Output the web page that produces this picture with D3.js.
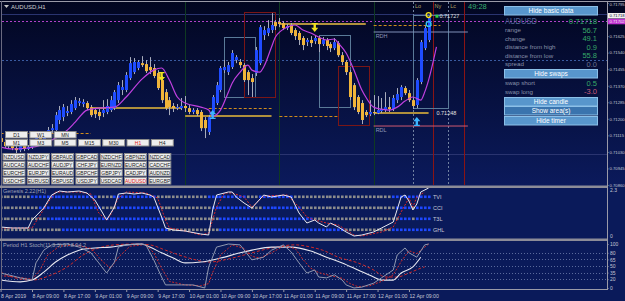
<!DOCTYPE html>
<html>
  <head>
    <meta charset="utf-8" />
    <title>AUDUSD,H1</title>
    <script src="https://d3js.org/d3.v7.min.js"></script>
    <style>
        body { margin: 0; background: #0a1a5a; }
        svg { display: block; font-family: "Liberation Sans", Arial, sans-serif; }
    </style>
  </head>
  <body>
    <svg id="chart"></svg>
    <script>
        // ---- data (bar 1 = 8 Apr 01:00, one bar per hour) ----
        var firstBar = 1;
        var opens = [0.71101,0.71081,0.71060,0.71075,0.71050,0.71039,0.71060,0.71045,0.71055,0.71075,
            0.71101,0.71091,0.71122,0.71142,0.71142,0.71194,0.71209,0.71230,0.71235,0.71255,
            0.71281,0.71276,0.71281,0.71260,0.71245,0.71235,0.71230,0.71235,0.71245,0.71255,
            0.71296,0.71348,0.71348,0.71409,0.71440,0.71461,0.71486,0.71481,0.71466,0.71461,
            0.71435,0.71399,0.71337,0.71296,0.71266,0.71255,0.71255,0.71266,0.71255,0.71235,
            0.71245,0.71235,0.71194,0.71132,0.71235,0.71281,0.71348,0.71450,0.71440,0.71466,
            0.71502,0.71492,0.71476,0.71440,0.71409,0.71435,0.71486,0.71630,0.71641,0.71656,
            0.71697,0.71697,0.71692,0.71666,0.71682,0.71656,0.71641,0.71615,0.71594,0.71605,
            0.71599,0.71615,0.71584,0.71605,0.71584,0.71563,0.71589,0.71527,0.71492,0.71440,
            0.71373,0.71312,0.71281,0.71235,0.71224,0.71235,0.71230,0.71240,0.71245,0.71260,
            0.71250,0.71296,0.71312,0.71358,0.71332,0.71296,0.71271,0.71389,0.71563,0.71605];
        var closes = [0.71081,0.71060,0.71075,0.71050,0.71039,0.71060,0.71045,0.71055,0.71075,0.71101,
            0.71091,0.71122,0.71142,0.71152,0.71219,0.71245,0.71260,0.71240,0.71276,0.71296,
            0.71291,0.71286,0.71255,0.71219,0.71224,0.71214,0.71245,0.71266,0.71296,0.71337,
            0.71373,0.71363,0.71425,0.71486,0.71492,0.71492,0.71476,0.71445,0.71450,0.71420,
            0.71358,0.71296,0.71255,0.71260,0.71255,0.71260,0.71266,0.71255,0.71235,0.71245,
            0.71224,0.71152,0.71152,0.71209,0.71312,0.71373,0.71461,0.71466,0.71476,0.71538,
            0.71517,0.71476,0.71399,0.71399,0.71389,0.71553,0.71671,0.71656,0.71666,0.71682,
            0.71676,0.71687,0.71666,0.71676,0.71641,0.71625,0.71605,0.71579,0.71605,0.71589,
            0.71615,0.71584,0.71605,0.71574,0.71563,0.71594,0.71527,0.71492,0.71440,0.71312,
            0.71260,0.71235,0.71194,0.71219,0.71235,0.71230,0.71245,0.71250,0.71260,0.71250,
            0.71307,0.71327,0.71363,0.71332,0.71296,0.71266,0.71399,0.71594,0.71666,0.71718];
        var highs = [0.71122,0.71091,0.71086,0.71081,0.71060,0.71070,0.71065,0.71065,0.71086,0.71111,
            0.71117,0.71132,0.71158,0.71173,0.71235,0.71266,0.71276,0.71266,0.71296,0.71312,
            0.71307,0.71301,0.71291,0.71271,0.71255,0.71250,0.71296,0.71301,0.71317,0.71348,
            0.71389,0.71399,0.71440,0.71517,0.71512,0.71502,0.71522,0.71502,0.71517,0.71481,
            0.71450,0.71420,0.71353,0.71312,0.71281,0.71276,0.71307,0.71317,0.71271,0.71255,
            0.71255,0.71245,0.71209,0.71219,0.71322,0.71389,0.71471,0.71502,0.71492,0.71553,
            0.71527,0.71507,0.71486,0.71450,0.71430,0.71569,0.71682,0.71676,0.71707,0.71743,
            0.71707,0.71718,0.71702,0.71687,0.71692,0.71666,0.71651,0.71625,0.71615,0.71625,
            0.71630,0.71625,0.71620,0.71615,0.71594,0.71615,0.71599,0.71543,0.71502,0.71450,
            0.71384,0.71322,0.71296,0.71245,0.71296,0.71322,0.71317,0.71307,0.71337,0.71312,
            0.71322,0.71358,0.71373,0.71368,0.71348,0.71312,0.71409,0.71605,0.71676,0.71727];
        var lows = [0.71060,0.71050,0.71045,0.71039,0.71024,0.71029,0.71034,0.71039,0.71045,0.71065,
            0.71075,0.71081,0.71111,0.71127,0.71132,0.71173,0.71188,0.71214,0.71224,0.71245,
            0.71266,0.71260,0.71245,0.71209,0.71204,0.71194,0.71209,0.71224,0.71235,0.71245,
            0.71281,0.71322,0.71337,0.71399,0.71430,0.71450,0.71466,0.71435,0.71430,0.71409,
            0.71348,0.71281,0.71245,0.71219,0.71235,0.71245,0.71245,0.71235,0.71224,0.71224,
            0.71214,0.71137,0.71101,0.71117,0.71224,0.71271,0.71337,0.71435,0.71425,0.71456,
            0.71486,0.71461,0.71389,0.71322,0.71312,0.71420,0.71476,0.71605,0.71625,0.71641,
            0.71656,0.71671,0.71656,0.71656,0.71630,0.71605,0.71579,0.71553,0.71574,0.71569,
            0.71584,0.71543,0.71574,0.71553,0.71543,0.71553,0.71517,0.71476,0.71425,0.71296,
            0.71245,0.71224,0.71173,0.71209,0.71214,0.71219,0.71224,0.71230,0.71235,0.71235,
            0.71240,0.71281,0.71296,0.71322,0.71286,0.71250,0.71255,0.71378,0.71553,0.71594];

        // moving average (magenta), sampled where it could be read
        var maBars = [1,4,8,12,15,18,20,23,26,30,33,37,40,42,44,46,48,52,54,55,57,59,60,62,64,65,67,68,70,71,74,76,78,80,82,84,86,87,89,91,93,94,96,98,100,102,104,106,108,109,110,112];
        var maValues = [0.71055,0.71045,0.71050,0.71070,0.71101,0.71142,0.71183,0.71245,0.71255,0.71260,0.71312,0.71404,0.71450,0.71461,0.71399,0.71312,0.71281,0.71260,0.71245,0.71214,0.71245,0.71337,0.71384,0.71440,0.71476,0.71450,0.71440,0.71466,0.71569,0.71620,0.71671,0.71682,0.71656,0.71641,0.71620,0.71605,0.71610,0.71589,0.71538,0.71450,0.71348,0.71312,0.71260,0.71250,0.71245,0.71260,0.71291,0.71312,0.71296,0.71337,0.71399,0.71569];

        var priceTicks = [0.71795,0.71710,0.71625,0.71540,0.71455,0.71370,0.71285,0.71200,0.71115,0.71030,0.70945,0.70860];
        var timeTickBars = [1,9,17,25,33,41,49,57,65,73,81,89,97,105];
        var timeLabels = ["8 Apr 2019","8 Apr 09:00","8 Apr 17:00","9 Apr 01:00","9 Apr 09:00","9 Apr 17:00","10 Apr 01:00",
            "10 Apr 09:00","10 Apr 17:00","11 Apr 01:00","11 Apr 09:00","11 Apr 17:00","12 Apr 01:00","12 Apr 09:00"];
        var bidPrice = 0.71718, linePrice = 0.71702;

        // levels: [fromBar, toBar, price]
        var solidLevels = [[24,47,0.71255],[48,70,0.71214],[72,94,0.71687],[96,110,0.71230]];
        var dashedLevels = [[1,24,0.71127],[54,70,0.71255],[72,87,0.71214],[96,113,0.71682]];
        // session boxes: [fromBar, toBar, high, low]
        var grayBoxes = [[58,66,0.71620,0.71312],[82,90,0.71630,0.71260],[106,115,0.71733,0.71255]];
        var redBoxes = [[63,71,0.71748,0.71312],[87,95,0.71471,0.71168]];
        var daySepBars = [48,72,96];
        var sessionBars = [106,115];
        var sessionNames = ["Lo","Lc"];
        var redLineBars = [111,119];
        var downArrowBars = [42,81], downArrowPrices = [0.71440,0.71692];
        var upArrowBars = [55,107], upArrowPrices = [0.71199,0.71163];

        // Genesis 2.22 rows: [fromBar, toBar, isBlue]
        var genRowNames = ["TVI","CCI","T3L","GHL"];
        var genRows = [
            [[1,8,0],[9,25,1],[26,29,0],[30,40,1],[41,53,0],[54,63,1],[64,66,0],[67,75,1],[76,100,0],[101,110,1]],
            [[1,10,0],[11,26,1],[27,30,0],[31,41,1],[42,54,0],[55,64,1],[65,67,0],[68,77,1],[78,101,0],[102,105,1],[106,106,0],[107,110,1]],
            [[1,12,0],[13,42,1],[43,56,0],[57,80,1],[81,102,0],[103,105,1],[106,106,0],[107,110,1]],
            [[1,16,0],[17,43,1],[44,56,0],[57,88,1],[89,100,0],[101,110,1]]
        ];
        var genWhiteBars = [1,4,8,9,12,14,16,18,21,23,25,27,28,30,31,33,35,37,39,40,42,43,45,48,52,54,55,56,59,60,61,63,65,68,70,73,75,76,77,79,81,82,84,85,87,89,91,93,96,98,101,103,104,105,106,107,108,110];
        var genWhite = [0.45,0.40,0.40,0.80,1.40,2.05,2.25,2.20,2.25,2.15,1.80,1.15,0.80,1.45,2.10,2.15,2.10,2.15,2.05,1.95,0.95,0.40,0.30,0.25,0.10,0.05,1.30,2.05,2.20,2.20,1.95,1.65,1.40,2.05,1.95,2.05,1.95,1.55,1.15,0.65,0.80,0.65,0.45,0.65,0.45,0.20,0.00,0.05,0.20,0.40,0.70,1.95,2.05,1.75,1.30,1.60,2.20,2.40];
        var genRedBars = [1,9,13,15,21,24,26,28,29,31,33,38,41,43,44,48,52,54,56,58,60,63,65,68,74,77,79,81,84,87,91,93,98,101,103,105,106,107,109];
        var genRed = [0.40,0.40,1.65,2.20,2.20,2.10,1.15,0.80,1.05,1.90,2.20,2.15,1.90,0.80,0.40,0.25,0.05,0.15,1.45,2.15,2.15,1.95,1.45,2.00,2.05,1.45,0.95,0.80,0.65,0.55,0.05,0.00,0.20,0.45,1.20,1.90,1.45,1.95,2.20];

        // Period H1 Stoch(11,3,3)
        var stoLevels = [80,65,50,35,20];
        var stoAxis = [100,80,65,50,35,20,0];
        var kBars = [1,3,6,9,10,12,14,18,21,24,26,28,30,31,33,36,38,40,42,43,47,50,53,54,56,59,62,64,65,68,70,73,75,77,79,81,82,84,86,88,89,91,93,96,98,101,102,104,105,107,109,110];
        var kValues = [34,30,23,18,57,86,98,100,93,80,57,34,59,93,98,100,98,64,25,7,7,7,0,48,93,100,98,75,64,70,86,98,82,57,34,41,25,23,30,18,7,0,2,11,23,41,75,91,80,70,98,100];
        var dBars = [1,5,9,11,13,16,20,24,27,29,31,34,38,40,42,44,48,52,54,55,57,60,63,65,67,70,73,76,78,80,82,85,88,90,92,95,98,101,103,105,107,110];
        var dValues = [28,25,20,40,75,95,98,90,60,45,70,95,99,80,45,15,7,5,10,35,75,98,90,72,68,80,95,90,65,45,35,28,22,10,3,5,15,30,60,85,78,100];
        var slowBars = [1,6,9,12,15,18,21,25,29,33,37,39,42,45,48,52,57,62,65,70,75,80,84,88,92,96,98,101,103,106,108];
        var slowValues = [18,14,18,36,59,75,86,91,93,98,100,93,80,68,57,59,68,80,86,93,93,84,70,57,41,25,18,18,34,48,70];
        var slowSigBars = [1,4,9,14,18,22,26,30,35,39,43,49,54,60,65,70,76,80,83,87,92,96,99,102,105,108,109];
        var slowSigValues = [36,25,18,30,48,75,91,98,100,98,86,68,59,68,80,91,98,93,86,70,57,41,25,25,34,45,48];

        // info panel
        var infoLabels = ["range","change","distance from high","distance from low","spread"];
        var infoValues = ["56.7","49.1","0.9","55.8","0.0"];
        var swapLabels = ["swap short","swap long"];
        var swapValues = ["0.5","-3.0"];
        var tfRow1 = ["D1","W1","MN"];
        var tfRow2 = ["M1","M3","M5","M15","M30","H1","H4"];
        var pairRows = [
            ["NZDUSD","NZDJPY","GBPAUD","GBPCAD","NZDCHF","GBPNZD","NZDCAD"],
            ["AUDCAD","AUDCHF","AUDJPY","CHFJPY","EURNZD","EURCAD","CADCHF"],
            ["EURCHF","EURJPY","EURAUD","GBPCHF","GBPJPY","CADJPY","AUDNZD"],
            ["USDCHF","EURUSD","GBPUSD","USDJPY","USDCAD","AUDUSD","EURGBP"]
        ];

        // ---- layout ----
        var width = 625, height = 301;
        var plotLeft = 2, plotRight = 607;
        var mainTop = 2, mainBottom = 185;
        var genTop = 188, genBottom = 238;
        var stoTop = 241, stoBottom = 289;

        var svg = d3.select("#chart").attr("width", width).attr("height", height);
        var defs = svg.append("defs");
        var grad = defs.append("linearGradient").attr("id", "bg").attr("x1", 0).attr("y1", 0).attr("x2", 0).attr("y2", 1);
        grad.append("stop").attr("offset", "0%").attr("stop-color", "#020620");
        grad.append("stop").attr("offset", "100%").attr("stop-color", "#0b1a5c");

        function addClip(id, top, bottom) {
            defs.append("clipPath").attr("id", id).append("rect")
                .attr("x", plotLeft).attr("y", top).attr("width", plotRight - plotLeft).attr("height", bottom - top);
        }
        addClip("clipMain", mainTop, mainBottom);
        addClip("clipGen", genTop, genBottom);
        addClip("clipSto", stoTop, stoBottom);

        svg.append("rect").attr("width", width).attr("height", height).attr("fill", "#0a1a5a");
        svg.append("rect").attr("width", width).attr("height", 186).attr("fill", "url(#bg)");

        var x = d3.scaleLinear().domain([0, 110]).range([-3.34, 428.6]);
        var y = d3.scaleLinear().domain([0.70860, 0.71795]).range([185, 3]);
        var yGen = d3.scaleLinear().domain([0, 2.3]).range([236, 190]);
        var ySto = d3.scaleLinear().domain([0, 100]).range([288, 244]);

        var bars = opens.map(function(d, i) {
            return {bar: firstBar + i, o: d, h: highs[i], l: lows[i], c: closes[i]};
        });

        // ---- main pane ----
        var main = svg.append("g").attr("clip-path", "url(#clipMain)");

        // faint horizontal lines
        main.selectAll(".faint").data([0.71738, 0.71019]).enter().append("line")
            .attr("x1", plotLeft).attr("x2", plotRight)
            .attr("y1", function(d) { return Math.round(y(d)) + 0.5; })
            .attr("y2", function(d) { return Math.round(y(d)) + 0.5; })
            .attr("stroke", "#2a3470").attr("stroke-width", 1);
        main.append("line").attr("x1", plotLeft).attr("x2", plotRight)
            .attr("y1", Math.round(y(0.71502)) + 0.5).attr("y2", Math.round(y(0.71502)) + 0.5)
            .attr("stroke", "#3a5aa0").attr("stroke-dasharray", "2,2");
        main.append("line").attr("x1", plotLeft).attr("x2", plotRight)
            .attr("y1", Math.round(y(linePrice)) + 0.5).attr("y2", Math.round(y(linePrice)) + 0.5)
            .attr("stroke", "#b040c8").attr("stroke-dasharray", "2,2");

        // vertical lines
        main.selectAll(".daysep").data(daySepBars).enter().append("line")
            .attr("x1", function(d) { return Math.round(x(d)) + 0.5; })
            .attr("x2", function(d) { return Math.round(x(d)) + 0.5; })
            .attr("y1", mainTop).attr("y2", mainBottom)
            .attr("stroke", "#0f3a22");
        main.selectAll(".sess").data(sessionBars).enter().append("line")
            .attr("x1", function(d) { return Math.round(x(d)) + 0.5; })
            .attr("x2", function(d) { return Math.round(x(d)) + 0.5; })
            .attr("y1", mainTop).attr("y2", mainBottom)
            .attr("stroke", "#7080a0").attr("stroke-dasharray", "2,2");
        main.selectAll(".redv").data(redLineBars).enter().append("line")
            .attr("x1", function(d) { return Math.round(x(d)) + 0.5; })
            .attr("x2", function(d) { return Math.round(x(d)) + 0.5; })
            .attr("y1", mainTop).attr("y2", mainBottom)
            .attr("stroke", "#8a1414");

        // boxes
        main.selectAll(".gbox").data(grayBoxes).enter().append("rect")
            .attr("x", function(d) { return Math.round(x(d[0])) + 0.5; })
            .attr("y", function(d) { return Math.round(y(d[2])) + 0.5; })
            .attr("width", function(d) { return Math.round(x(d[1]) - x(d[0])); })
            .attr("height", function(d) { return Math.round(y(d[3]) - y(d[2])); })
            .attr("fill", "none").attr("stroke", "#5a7a98");
        main.selectAll(".rbox").data(redBoxes).enter().append("rect")
            .attr("x", function(d) { return Math.round(x(d[0])) + 0.5; })
            .attr("y", function(d) { return Math.round(y(d[2])) + 0.5; })
            .attr("width", function(d) { return Math.round(x(d[1]) - x(d[0])); })
            .attr("height", function(d) { return Math.round(y(d[3]) - y(d[2])); })
            .attr("fill", "none").attr("stroke", "#7a1616");

        // RDH / RDL
        main.append("line").attr("x1", x(96)).attr("x2", x(120))
            .attr("y1", y(0.71646)).attr("y2", y(0.71646)).attr("stroke", "#8090b8").attr("stroke-width", 1);
        main.append("line").attr("x1", x(96)).attr("x2", x(120))
            .attr("y1", y(0.71163)).attr("y2", y(0.71163)).attr("stroke", "#d05a70").attr("stroke-width", 1);
        main.append("text").attr("x", x(96) + 2).attr("y", y(0.71646) + 6).text("RDH")
            .attr("fill", "#8d98b8").attr("font-size", 5.5);
        main.append("text").attr("x", x(96) + 2).attr("y", y(0.71163) + 6).text("RDL")
            .attr("fill", "#8d98b8").attr("font-size", 5.5);

        // levels
        main.selectAll(".slevel").data(solidLevels).enter().append("line")
            .attr("x1", function(d) { return x(d[0]); })
            .attr("x2", function(d) { return x(d[1]); })
            .attr("y1", function(d) { return y(d[2]); })
            .attr("y2", function(d) { return y(d[2]); })
            .attr("stroke", "#b0903c").attr("stroke-width", 2);
        main.selectAll(".dlevel").data(dashedLevels).enter().append("line")
            .attr("x1", function(d) { return x(d[0]); })
            .attr("x2", function(d) { return x(d[1]); })
            .attr("y1", function(d) { return Math.round(y(d[2])) + 0.5; })
            .attr("y2", function(d) { return Math.round(y(d[2])) + 0.5; })
            .attr("stroke", "#d08c1c").attr("stroke-dasharray", "3,2");

        // candles
        var candle = main.selectAll(".candle").data(bars).enter().append("g");
        candle.append("line")
            .attr("x1", function(d) { return Math.round(x(d.bar)) + 0.5; })
            .attr("x2", function(d) { return Math.round(x(d.bar)) + 0.5; })
            .attr("y1", function(d) { return y(d.h); })
            .attr("y2", function(d) { return y(d.l); })
            .attr("stroke", "#a8acbc");
        candle.append("rect")
            .attr("x", function(d) { return Math.round(x(d.bar)) - 1; })
            .attr("width", 3)
            .attr("y", function(d) { return y(Math.max(d.o, d.c)); })
            .attr("height", function(d) { return Math.max(1, Math.abs(y(d.o) - y(d.c))); })
            .attr("fill", function(d) { return d.c >= d.o ? "#1f4cff" : "#f0b43a"; });

        // moving average
        var maData = maBars.map(function(b, i) { return {bar: b, v: maValues[i]}; });
        main.append("path").datum(maData)
            .attr("d", d3.line().x(function(d) { return x(d.bar); }).y(function(d) { return y(d.v); }).curve(d3.curveMonotoneX))
            .attr("fill", "none").attr("stroke", "#c040e0").attr("stroke-width", 1.2);

        // signal arrows
        function downArrow(cx, top) {
            return "M" + (cx - 3) + "," + top + "h6v1.2h-1.8v3.6h2.3l-3.5,4.2l-3.5,-4.2h2.3v-3.6h-1.8z";
        }
        function upArrow(cx, bottom) {
            return "M" + (cx - 3) + "," + bottom + "h6v-1.2h-1.8v-3.6h2.3l-3.5,-4.2l-3.5,4.2h2.3v3.6h-1.8z";
        }
        main.selectAll(".darrow").data(downArrowBars).enter().append("path")
            .attr("d", function(d, i) { return downArrow(x(d), y(downArrowPrices[i])); })
            .attr("fill", "#f0e020");
        main.selectAll(".uarrow").data(upArrowBars).enter().append("path")
            .attr("d", function(d, i) { return upArrow(x(d), y(upArrowPrices[i])); })
            .attr("fill", "#3cb4ff");

        // high / low markers of the current session
        main.append("circle").attr("cx", x(110)).attr("cy", y(0.71733)).attr("r", 2.4)
            .attr("fill", "none").attr("stroke", "#f0e020").attr("stroke-width", 1.4);
        main.append("circle").attr("cx", x(110)).attr("cy", y(0.71687)).attr("r", 2.4)
            .attr("fill", "none").attr("stroke", "#30c8f0").attr("stroke-width", 1.4);
        main.append("rect").attr("x", x(112) - 1).attr("y", y(0.71727) - 1.5).attr("width", 3).attr("height", 3).attr("fill", "#30d040");
        main.append("text").attr("x", x(112) + 3).attr("y", y(0.71727) + 2).text("0.71727")
            .attr("fill", "#e0e0e0").attr("font-size", 5.5);
        main.append("text").attr("x", x(112)).attr("y", y(0.71230) + 2).text("0.71248")
            .attr("fill", "#e0e0e0").attr("font-size", 5.5);

        // session labels + timer
        main.selectAll(".slab").data(sessionBars).enter().append("text")
            .attr("x", function(d) { return x(d) + 2; }).attr("y", 8)
            .text(function(d, i) { return sessionNames[i]; })
            .attr("fill", "#b0a060").attr("font-size", 5.5);
        main.append("text").attr("x", x(111) + 2).attr("y", 8).text("Ny").attr("fill", "#b0a060").attr("font-size", 5.5);
        main.append("text").attr("x", 468).attr("y", 9).text("49:28").attr("fill", "#38b070").attr("font-size", 7.5);

        // symbol label
        svg.append("path").attr("d", "M4,5h5l-2.5,3z").attr("fill", "#c0c0c0");
        svg.append("text").attr("x", 11).attr("y", 9).text("AUDUSD,H1").attr("fill", "#d0d0d0").attr("font-size", 6);

        // ---- info panel ----
        var panel = svg.append("g");
        function button(label, top, fill) {
            panel.append("rect").attr("x", 504.5).attr("y", top + 0.5).attr("width", 93).attr("height", 8.5)
                .attr("fill", fill).attr("stroke", "#8cc0e8");
            panel.append("text").attr("x", 551).attr("y", top + 7).attr("text-anchor", "middle").text(label)
                .attr("fill", "#ffffff").attr("font-size", 6.5);
        }
        button("Hide basic data", 6, "#5896cc");
        panel.append("text").attr("x", 505).attr("y", 23.5).text("AUDUSD").attr("fill", "#55689c")
            .attr("font-size", 9).attr("textLength", 32).attr("lengthAdjust", "spacingAndGlyphs");
        panel.append("text").attr("x", 597).attr("y", 23.5).attr("text-anchor", "end").text(d3.format(".5f")(bidPrice))
            .attr("fill", "#36a868").attr("font-size", 7.8);
        var infoY = [32.5, 41, 49.5, 58, 66.5];
        panel.selectAll(".il").data(infoLabels).enter().append("text")
            .attr("x", 505).attr("y", function(d, i) { return infoY[i] - 0.5; }).text(function(d) { return d; })
            .attr("fill", "#8890a8").attr("font-size", 6.2);
        panel.selectAll(".iv").data(infoValues).enter().append("text")
            .attr("x", 597).attr("y", function(d, i) { return infoY[i]; }).attr("text-anchor", "end")
            .text(function(d) { return d; })
            .attr("fill", function(d, i) { return i === 4 ? "#6a7090" : "#36a868"; }).attr("font-size", 7.5);
        button("Hide swaps", 69, "#5896cc");
        var swapY = [85.5, 94];
        panel.selectAll(".sl").data(swapLabels).enter().append("text")
            .attr("x", 505).attr("y", function(d, i) { return swapY[i] - 0.5; }).text(function(d) { return d; })
            .attr("fill", "#8890a8").attr("font-size", 6.2);
        panel.selectAll(".sv").data(swapValues).enter().append("text")
            .attr("x", 597).attr("y", function(d, i) { return swapY[i]; }).attr("text-anchor", "end")
            .text(function(d) { return d; })
            .attr("fill", function(d, i) { return i === 1 ? "#c85a7a" : "#36a868"; }).attr("font-size", 7.5);
        button("Hide candle", 97, "#5896cc");
        button("Show area(s)", 106, "#3a74ae");
        button("Hide timer", 116, "#5896cc");

        // ---- timeframe and symbol buttons ----
        var btns = svg.append("g");
        function smallButtons(labels, top, left, hl) {
            labels.forEach(function(lab, i) {
                var bx = left + i * 24.3;
                btns.append("rect").attr("x", bx + 0.5).attr("y", top + 0.5).attr("width", 22).attr("height", 6.5)
                    .attr("fill", "#eeeeee").attr("stroke", "#8a8a8a");
                btns.append("text").attr("x", bx + 11.5).attr("y", top + 5.6).attr("text-anchor", "middle").text(lab)
                    .attr("fill", lab === hl ? "#e02020" : "#202020").attr("font-size", 5);
            });
        }
        smallButtons(tfRow1, 131, 5, "");
        smallButtons(tfRow2, 139, 5, "H1");
        pairRows.forEach(function(row, r) {
            smallButtons(row, 153 + r * 8, 2.5, "AUDUSD");
        });

        // ---- Genesis pane ----
        var gen = svg.append("g").attr("clip-path", "url(#clipGen)");
        var rowY = [197, 208, 219, 230];
        genRows.forEach(function(runs, r) {
            var cells = [];
            runs.forEach(function(run) {
                for (var b = run[0]; b <= run[1]; b++) cells.push({bar: b, blue: run[2]});
            });
            gen.selectAll(".cell" + r).data(cells).enter().append("rect")
                .attr("x", function(d) { return Math.round(x(d.bar)) - 1; })
                .attr("y", rowY[r] - 1.5).attr("width", 2.6).attr("height", 2.6)
                .attr("fill", function(d) { return d.blue ? "#1e48ff" : "#8c8c8c"; });
        });
        svg.selectAll(".rowname").data(genRowNames).enter().append("text")
            .attr("x", 433).attr("y", function(d, i) { return rowY[i] + 2; })
            .text(function(d) { return d; }).attr("fill", "#c8c8d8").attr("font-size", 5.5);

        var genW = genWhiteBars.map(function(b, i) { return {bar: b, v: genWhite[i]}; });
        var genR = genRedBars.map(function(b, i) { return {bar: b, v: genRed[i]}; });
        var genLine = d3.line().x(function(d) { return x(d.bar); }).y(function(d) { return yGen(d.v); });
        gen.append("path").datum(genR).attr("d", genLine).attr("fill", "none")
            .attr("stroke", "#e02828").attr("stroke-dasharray", "2,1.5");
        gen.append("path").datum(genW).attr("d", genLine).attr("fill", "none")
            .attr("stroke", "#e8e8f0").attr("stroke-width", 1);
        svg.append("text").attr("x", 3).attr("y", 193).text("Genesis 2.22(H1)").attr("fill", "#a0a4b8").attr("font-size", 5.5);

        // ---- Stoch pane ----
        var sto = svg.append("g").attr("clip-path", "url(#clipSto)");
        sto.selectAll(".lvl").data(stoLevels).enter().append("line")
            .attr("x1", plotLeft).attr("x2", plotRight)
            .attr("y1", function(d) { return Math.round(ySto(d)) + 0.5; })
            .attr("y2", function(d) { return Math.round(ySto(d)) + 0.5; })
            .attr("stroke", "#5a6a9c").attr("stroke-dasharray", "1,2");
        var stoLine = d3.line().x(function(d) { return x(d.bar); }).y(function(d) { return ySto(d.v); });
        function pairs(bs, vs) { return bs.map(function(b, i) { return {bar: b, v: vs[i]}; }); }
        sto.append("path").datum(pairs(slowSigBars, slowSigValues)).attr("d", stoLine.curve(d3.curveMonotoneX))
            .attr("fill", "none").attr("stroke", "#d02828").attr("stroke-dasharray", "3,2");
        sto.append("path").datum(pairs(slowBars, slowValues)).attr("d", stoLine.curve(d3.curveMonotoneX))
            .attr("fill", "none").attr("stroke", "#e8e8f0").attr("stroke-width", 1.1);
        stoLine.curve(d3.curveLinear);
        sto.append("path").datum(pairs(dBars, dValues)).attr("d", stoLine)
            .attr("fill", "none").attr("stroke", "#d02828").attr("stroke-dasharray", "2,1.5");
        sto.append("path").datum(pairs(kBars, kValues)).attr("d", stoLine)
            .attr("fill", "none").attr("stroke", "#9098b0").attr("stroke-width", 1);
        svg.append("text").attr("x", 3).attr("y", 247).text("Period H1 Stoch(11,3,3) 97.8 94.2")
            .attr("fill", "#a0a4b8").attr("font-size", 5.5);

        // ---- frames and separators ----
        svg.append("line").attr("x1", 0).attr("x2", width).attr("y1", 1.5).attr("y2", 1.5).attr("stroke", "#9a9aa8");
        svg.append("line").attr("x1", 1.5).attr("x2", 1.5).attr("y1", 1).attr("y2", stoBottom).attr("stroke", "#6a6a80");
        svg.append("rect").attr("x", 0).attr("y", 185.5).attr("width", plotRight).attr("height", 2.5).attr("fill", "#8c8c98");
        svg.append("rect").attr("x", 0).attr("y", 238.5).attr("width", plotRight).attr("height", 2.5).attr("fill", "#8c8c98");
        svg.append("line").attr("x1", 0).attr("x2", plotRight).attr("y1", stoBottom + 0.5).attr("y2", stoBottom + 0.5).attr("stroke", "#9a9aa8");
        svg.append("line").attr("x1", plotRight + 0.5).attr("x2", plotRight + 0.5).attr("y1", 1).attr("y2", stoBottom + 1).attr("stroke", "#9a9aa8");

        // ---- axes ----
        var axisText = "#c4c6d4";
        var priceFmt = d3.format(".5f");
        var yAxis = d3.axisRight(y).tickValues(priceTicks)
            .tickFormat(function(d) { return Math.abs(d - bidPrice) < 0.0002 ? "" : priceFmt(d); })
            .tickSize(1.5).tickPadding(1);
        var ya = svg.append("g").attr("transform", "translate(" + plotRight + ",0)").call(yAxis);
        ya.select(".domain").remove();
        ya.selectAll("line").attr("stroke", "#9a9aa8");
        ya.selectAll("text").attr("fill", axisText).attr("font-size", 4.2).attr("font-family", "Liberation Sans, Arial")
            .attr("dy", function(d) { return d === priceTicks[0] ? "0.8em" : "0.32em"; })
            .attr("y", function(d) { return d === priceTicks[0] ? -1 : 0; });

        // current price tags
        svg.append("rect").attr("x", 608).attr("y", 13).attr("width", 17).attr("height", 5.5).attr("fill", "#f0f0f0");
        svg.append("text").attr("x", 609.5).attr("y", 17.3).text(priceFmt(bidPrice)).attr("fill", "#101030")
            .attr("font-size", 4.2);
        svg.append("rect").attr("x", 608).attr("y", 18.8).attr("width", 17).attr("height", 5.5).attr("fill", "#c030d0");
        svg.append("text").attr("x", 609.5).attr("y", 23.1).text(priceFmt(linePrice)).attr("fill", "#f0f0f0")
            .attr("font-size", 4.2);

        var ga = svg.append("g").attr("font-size", 5);
        ga.append("text").attr("x", 610).attr("y", yGen(2.3) + 2).text("2.3").attr("fill", axisText);
        ga.append("text").attr("x", 610).attr("y", yGen(0) + 2).text("0").attr("fill", axisText);

        var sAxis = d3.axisRight(ySto).tickValues(stoAxis).tickFormat(d3.format("d")).tickSize(1.5).tickPadding(1.5);
        var sa = svg.append("g").attr("transform", "translate(" + plotRight + ",0)").call(sAxis);
        sa.select(".domain").remove();
        sa.selectAll("line").attr("stroke", "#9a9aa8");
        sa.selectAll("text").attr("fill", axisText).attr("font-size", 5).attr("font-family", "Liberation Sans, Arial");

        var xAxis = d3.axisBottom(x).tickValues(timeTickBars)
            .tickFormat(function(d, i) { return timeLabels[i]; }).tickSize(2).tickPadding(2);
        var xa = svg.append("g").attr("transform", "translate(0," + (stoBottom + 1) + ")").call(xAxis);
        xa.select(".domain").remove();
        xa.selectAll("line").attr("stroke", "#9a9aa8");
        xa.selectAll("text").attr("fill", axisText).attr("font-size", 5.2).attr("text-anchor", "start")
            .attr("font-family", "Liberation Sans, Arial");
    </script>
  </body>
</html>
